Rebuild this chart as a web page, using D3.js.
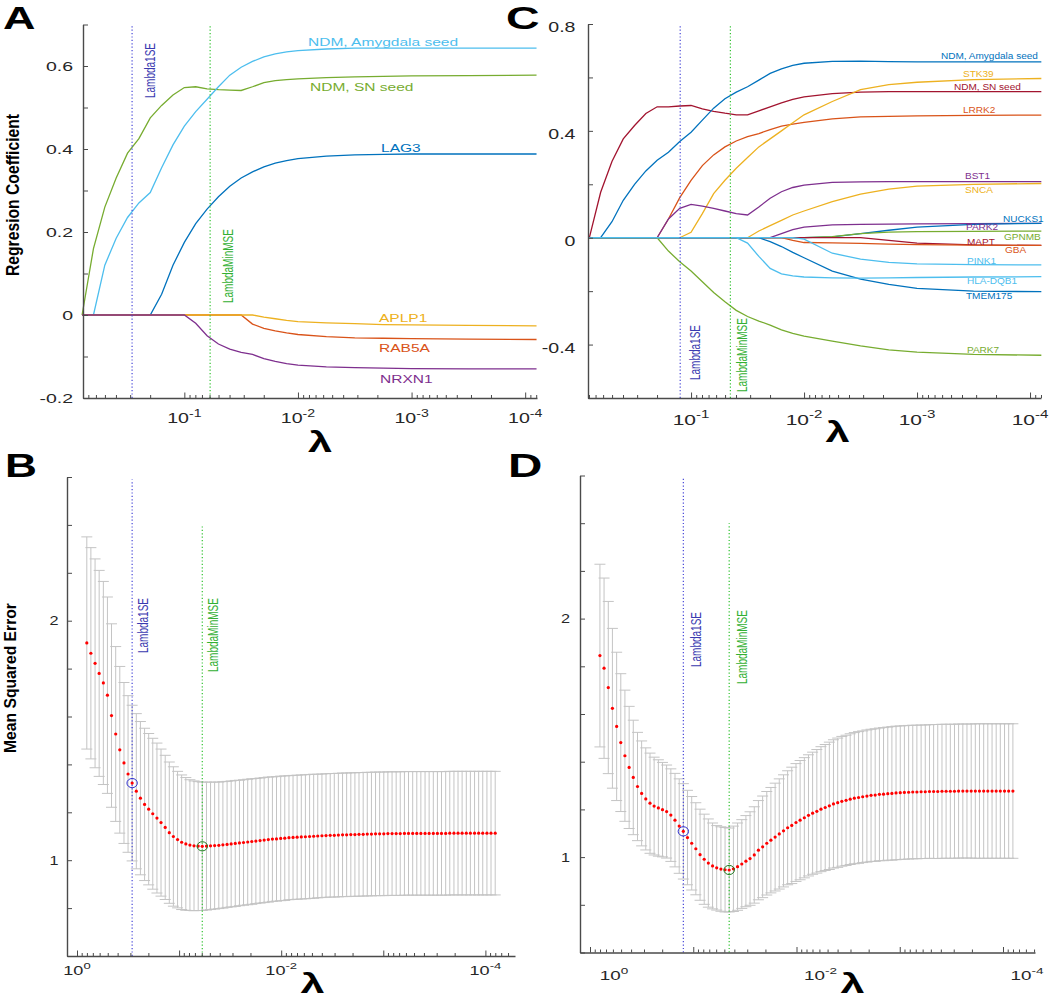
<!DOCTYPE html>
<html>
<head>
<meta charset="utf-8">
<script src="https://cdn.jsdelivr.net/npm/d3@7"></script>
<style>
  body { margin: 0; background: #fff; }
  svg { display: block; font-family: "Liberation Sans", Arial, Helvetica, sans-serif; }
</style>
</head>
<body>
<script>
// ---- data ----
// log10(lambda) of the 100 cross-validation points (B and D)
const logLambda = [-0.096,-0.136,-0.177,-0.217,-0.258,-0.298,-0.338,-0.379,-0.419,-0.460,
  -0.500,-0.540,-0.581,-0.621,-0.662,-0.702,-0.742,-0.783,-0.823,-0.864,
  -0.904,-0.944,-0.985,-1.025,-1.066,-1.106,-1.146,-1.187,-1.227,-1.268,
  -1.308,-1.348,-1.389,-1.429,-1.470,-1.510,-1.550,-1.591,-1.631,-1.672,
  -1.712,-1.752,-1.793,-1.833,-1.874,-1.914,-1.954,-1.995,-2.035,-2.076,
  -2.116,-2.156,-2.197,-2.237,-2.278,-2.318,-2.358,-2.399,-2.439,-2.480,
  -2.520,-2.560,-2.601,-2.641,-2.682,-2.722,-2.762,-2.803,-2.843,-2.884,
  -2.924,-2.964,-3.005,-3.045,-3.086,-3.126,-3.166,-3.207,-3.247,-3.288,
  -3.328,-3.368,-3.409,-3.449,-3.490,-3.530,-3.570,-3.611,-3.651,-3.692,
  -3.732,-3.772,-3.813,-3.853,-3.894,-3.934,-3.974,-4.015,-4.055,-4.096];

const mseB = [1.907,1.864,1.822,1.780,1.740,1.689,1.604,1.527,1.461,1.406,
  1.360,1.322,1.288,1.259,1.233,1.213,1.194,1.176,1.157,1.137,
  1.115,1.099,1.086,1.075,1.068,1.063,1.060,1.059,1.058,1.059,
  1.060,1.061,1.062,1.064,1.066,1.068,1.070,1.072,1.074,1.076,
  1.078,1.080,1.082,1.084,1.086,1.088,1.089,1.091,1.092,1.094,
  1.095,1.096,1.097,1.098,1.099,1.100,1.101,1.102,1.103,1.104,
  1.104,1.105,1.106,1.106,1.107,1.107,1.108,1.108,1.109,1.109,
  1.110,1.110,1.110,1.111,1.111,1.111,1.111,1.112,1.112,1.112,
  1.112,1.112,1.112,1.112,1.112,1.112,1.112,1.112,1.113,1.113,
  1.113,1.113,1.113,1.113,1.113,1.113,1.113,1.113,1.113,1.113];
const seB = [0.443,0.441,0.436,0.430,0.424,0.410,0.383,0.365,0.348,0.336,
  0.327,0.325,0.324,0.320,0.318,0.316,0.315,0.313,0.307,0.301,
  0.295,0.291,0.285,0.281,0.277,0.273,0.271,0.269,0.268,0.267,
  0.266,0.265,0.264,0.264,0.263,0.263,0.263,0.262,0.262,0.262,
  0.262,0.261,0.261,0.261,0.261,0.260,0.260,0.260,0.260,0.259,
  0.259,0.259,0.259,0.259,0.259,0.259,0.258,0.258,0.258,0.258,
  0.258,0.258,0.258,0.258,0.258,0.258,0.258,0.258,0.258,0.258,
  0.258,0.258,0.258,0.258,0.258,0.258,0.258,0.258,0.258,0.258,
  0.258,0.258,0.258,0.258,0.258,0.258,0.258,0.258,0.258,0.258,
  0.258,0.258,0.258,0.258,0.258,0.258,0.258,0.258,0.258,0.258];

const mseD = [1.845,1.792,1.711,1.624,1.548,1.480,1.425,1.376,1.334,1.296,
  1.267,1.244,1.226,1.214,1.206,1.199,1.191,1.176,1.155,1.130,
  1.108,1.082,1.058,1.035,1.010,0.991,0.975,0.963,0.955,0.950,
  0.947,0.946,0.951,0.960,0.971,0.983,0.994,1.009,1.029,1.043,
  1.058,1.071,1.084,1.097,1.110,1.123,1.133,1.145,1.155,1.165,
  1.175,1.184,1.192,1.201,1.208,1.215,1.223,1.228,1.234,1.238,
  1.243,1.247,1.250,1.253,1.256,1.259,1.260,1.263,1.264,1.266,
  1.267,1.269,1.270,1.271,1.272,1.273,1.273,1.274,1.274,1.275,
  1.275,1.275,1.276,1.276,1.276,1.276,1.277,1.277,1.277,1.277,
  1.277,1.277,1.277,1.277,1.277,1.277,1.277,1.277,1.277,1.277];
const seD = [0.383,0.378,0.361,0.335,0.311,0.289,0.275,0.256,0.240,0.227,
  0.220,0.214,0.210,0.205,0.202,0.198,0.195,0.194,0.196,0.198,
  0.200,0.198,0.196,0.193,0.191,0.189,0.185,0.180,0.177,0.177,
  0.177,0.176,0.179,0.183,0.186,0.191,0.196,0.202,0.208,0.213,
  0.217,0.221,0.226,0.231,0.235,0.239,0.244,0.247,0.250,0.252,
  0.254,0.256,0.259,0.262,0.264,0.267,0.269,0.271,0.272,0.273,
  0.274,0.275,0.276,0.276,0.277,0.277,0.278,0.278,0.279,0.279,
  0.280,0.280,0.280,0.280,0.280,0.280,0.280,0.280,0.280,0.280,
  0.281,0.281,0.281,0.281,0.281,0.281,0.281,0.281,0.281,0.281,
  0.282,0.282,0.282,0.282,0.282,0.282,0.282,0.282,0.282,0.282];

// chosen lambdas (log10)
const lambda1SE_AB = -0.540, lambdaMin_AB = -1.227;
const lambda1SE_CD = -0.904, lambdaMin_CD = -1.348;
const idx1SE_B = 11, idxMin_B = 28, idx1SE_D = 20, idxMin_D = 31;

// log10(lambda) where the coefficient paths were read (A and C)
const pathLog = [-0.1,-0.2,-0.3,-0.4,-0.5,-0.6,-0.7,-0.8,-0.9,-1.0,-1.1,-1.2,-1.3,
  -1.4,-1.5,-1.6,-1.7,-1.8,-1.9,-2.0,-2.25,-2.5,-2.75,-3.0,-3.5,-4.1];

// panel A coefficients
const aSN     = [0,0.16,0.26,0.33,0.39,0.425,0.475,0.505,0.53,0.548,0.55,0.545,0.543,0.542,0.541,0.55,0.56,0.565,0.567,0.569,0.572,0.574,0.575,0.576,0.577,0.578];
const aAmyg   = [0,0,0.12,0.185,0.235,0.27,0.295,0.355,0.41,0.455,0.49,0.52,0.55,0.578,0.597,0.611,0.622,0.629,0.634,0.637,0.641,0.643,0.643,0.643,0.643,0.643];
const aLAG3   = [0,0,0,0,0,0,0,0.05,0.12,0.175,0.22,0.255,0.285,0.31,0.33,0.345,0.357,0.366,0.372,0.377,0.383,0.386,0.387,0.388,0.388,0.388];
const aRAB5A  = [0,0,0,0,0,0,0,0,0,0,0,0,0,0,0,-0.022,-0.032,-0.038,-0.043,-0.047,-0.052,-0.055,-0.056,-0.057,-0.058,-0.059];
const aAPLP1  = [0,0,0,0,0,0,0,0,0,0,0,0,0,0,0,0,-0.005,-0.009,-0.013,-0.016,-0.019,-0.021,-0.023,-0.024,-0.025,-0.026];
const aNRXN1  = [0,0,0,0,0,0,0,0,0,0,-0.02,-0.05,-0.07,-0.082,-0.09,-0.095,-0.105,-0.112,-0.117,-0.121,-0.125,-0.127,-0.128,-0.129,-0.13,-0.13];

// panel C coefficients
const cSN      = [0,0.17,0.285,0.37,0.42,0.465,0.49,0.49,0.493,0.495,0.482,0.473,0.466,0.46,0.46,0.475,0.49,0.505,0.518,0.527,0.539,0.545,0.547,0.547,0.547,0.547];
const cAmyg    = [0,0,0.06,0.14,0.2,0.25,0.29,0.32,0.36,0.395,0.44,0.485,0.52,0.545,0.565,0.59,0.615,0.632,0.645,0.653,0.66,0.661,0.659,0.658,0.658,0.658];
const cLRRK2   = [0,0,0,0,0,0,0,0.07,0.15,0.215,0.27,0.31,0.34,0.362,0.378,0.39,0.405,0.418,0.425,0.432,0.445,0.452,0.454,0.456,0.458,0.459];
const cSTK39   = [0,0,0,0,0,0,0,0,0,0.02,0.09,0.165,0.215,0.26,0.3,0.34,0.37,0.4,0.43,0.46,0.51,0.554,0.573,0.582,0.592,0.596];
const cBST1    = [0,0,0,0,0,0,0,0.07,0.11,0.125,0.118,0.11,0.1,0.09,0.085,0.115,0.148,0.172,0.188,0.197,0.207,0.209,0.21,0.21,0.21,0.21];
const cSNCA    = [0,0,0,0,0,0,0,0,0,0,0,0,0,0,0,0.025,0.045,0.065,0.085,0.1,0.135,0.163,0.182,0.193,0.2,0.203];
const cPARK2   = [0,0,0,0,0,0,0,0,0,0,0,0,0,0,0,0,0,0.015,0.03,0.04,0.048,0.05,0.051,0.052,0.053,0.054];
const cNUCKS1  = [0,0,0,0,0,0,0,0,0,0,0,0,0,0,0,0,0,0,0,0,0.003,0.015,0.028,0.04,0.05,0.054];
const cGPNMB   = [0,0,0,0,0,0,0,0,0,0,0,0,0,0,0,0,0,0,0,0,0.004,0.015,0.021,0.023,0.024,0.025];
const cMAPT    = [0,0,0,0,0,0,0,0,0,0,0,0,0,0,0,0,0,0,0,0,0,0,-0.01,-0.02,-0.027,-0.029];
const cGBA     = [0,0,0,0,0,0,0,0,0,0,0,0,0,0,0,0,0,0,-0.01,-0.018,-0.019,-0.021,-0.024,-0.026,-0.028,-0.029];
const cTMEM175 = [0,0,0,0,0,0,0,0,0,0,0,0,0,0,0,0,-0.015,-0.033,-0.055,-0.075,-0.125,-0.155,-0.175,-0.19,-0.2,-0.202];
const cPARK7   = [0,0,0,0,0,0,0,-0.05,-0.09,-0.125,-0.165,-0.205,-0.24,-0.272,-0.295,-0.312,-0.327,-0.345,-0.358,-0.368,-0.387,-0.405,-0.42,-0.428,-0.437,-0.44];
const cPINK1   = [0,0,0,0,0,0,0,0,0,0,0,0,0,0,0,0,0,0,0,-0.005,-0.058,-0.08,-0.092,-0.098,-0.101,-0.102];
const cHLA     = [0,0,0,0,0,0,0,0,0,0,0,0,0,0,-0.02,-0.07,-0.115,-0.135,-0.143,-0.147,-0.15,-0.151,-0.15,-0.149,-0.147,-0.146];

// axis ticks and labels
const yTicksA = [-0.2,-0.1,0,0.1,0.2,0.3,0.4,0.5,0.6,0.7];
const yLabelsA = [-0.2,0,0.2,0.4,0.6];
const yTicksC = [-0.6,-0.4,-0.2,0,0.2,0.4,0.6,0.8];
const yLabelsC = [-0.4,0,0.4,0.8];
const yTicksMSE = [0.6,0.8,1.0,1.2,1.4,1.6,1.8,2.0,2.2,2.4,2.6];
const yLabelsMSE = [1,2];
const xExpCoef = [-1,-2,-3,-4];   // labelled decades in A and C
const xExpMSE = [0,-2,-4];        // labelled decades in B and D

// ---- styles ----
const C_BLUE = "#0072BD", C_ORANGE = "#D95319", C_YELLOW = "#EDB120", C_PURPLE = "#7E2F8E",
      C_GREEN = "#77AC30", C_CYAN = "#4DBEEE", C_RED = "#A2142F";
const AXIS = "#4a4a4a", INK = "#262626";

const svg = d3.select("body").append("svg").attr("width", 1050).attr("height", 1000);

function txt(g, s, x, y, o) {
  const tr = "translate(" + x + "," + y + ")" + (o.rot ? " rotate(" + o.rot + ")" : "") +
    " scale(" + (o.sx || 1) + "," + (o.sy || 1) + ")";
  const t = g.append("text")
    .attr("transform", tr)
    .attr("text-anchor", o.anchor || "start")
    .attr("fill", o.fill || INK)
    .style("font-size", o.size + "px")
    .style("font-weight", o.bold ? "bold" : "normal")
    .text(s);
  if (o.dy) t.attr("dy", o.dy);
  return t;
}

const isMajor = d => Math.abs(Math.log10(d) - Math.round(Math.log10(d))) < 1e-9;
const L = v => Math.pow(10, v);

function drawAxes(g, x, y, o) {
  const x0 = x.range()[0], yb = y.range()[0];
  const xt = x.ticks();
  const gx = g.append("g").attr("transform", "translate(0," + yb + ")")
    .call(d3.axisBottom(x).tickValues(xt).tickSizeInner(-3).tickSizeOuter(0).tickFormat(""));
  gx.selectAll(".tick line").filter(isMajor).attr("y2", -5.5);
  const gy = g.append("g").attr("transform", "translate(" + x0 + ",0)")
    .call(d3.axisLeft(y).tickValues(o.yTicks).tickSizeInner(-5).tickSizeOuter(0).tickFormat(""));
  [gx, gy].forEach(a => {
    a.select(".domain").attr("stroke", AXIS).attr("stroke-width", 1.4);
    a.selectAll(".tick line").attr("stroke", AXIS).attr("stroke-width", 1);
  });

  // x tick labels 10^k
  o.xExp.forEach(k => {
    const t = txt(g, "10", x(L(k)) + (o.xShift || 0), o.xLabelY, { size: o.xSize, sx: o.xSx, anchor: "middle", fill: INK });
    t.append("tspan").attr("dy", -o.xSize * 0.45).style("font-size", (o.xSize * 0.72) + "px").text(k);
  });
  // y tick labels
  o.yLabels.forEach(v => {
    txt(g, String(v), o.yLabelX, y(v) + (o.yLabelDy || 0), { size: o.ySize, sx: o.ySx, anchor: "end", dy: "0.36em" });
  });
  // lambda symbol
  txt(g, "λ", o.lamX, o.lamY, { size: o.lamSize || 30, sx: o.lamSx || 1.45, anchor: "middle", bold: true, fill: "#000" });
}

function vline(g, x, y, lg, v0, v1, color) {
  g.append("line")
    .attr("x1", x(L(lg))).attr("x2", x(L(lg)))
    .attr("y1", y(v0)).attr("y2", y(v1))
    .attr("stroke", color).attr("stroke-width", 1.2)
    .attr("stroke-dasharray", "1.2,2.2");
}

function vlabel(g, s, x, lg, dx, bottom, color) {
  txt(g, s, x(L(lg)) + dx, bottom, { size: 10, rot: -90, sy: 1.5, dy: "0.36em", fill: color });
}

// ---- coefficient-path panels (A, C) ----
function pathPanel(x, y, series) {
  const g = svg.append("g");
  const line = d3.line().x((d, i) => x(L(pathLog[i]))).y(d => y(d));
  series.forEach(s => {
    g.append("path").datum(s.values).attr("d", line)
      .attr("fill", "none").attr("stroke", s.color).attr("stroke-width", 1.3);
  });
  return g;
}

// Panel A
const xA = d3.scaleLog().domain([L(-0.108), L(-4.104)]).range([83, 537]);
const yA = d3.scaleLinear().domain([-0.2, 0.7]).range([398, 24.5]);
const seriesA = [
  { name: "NDM, SN seed", values: aSN, color: C_GREEN, lx: 310, ly: 91 },
  { name: "NDM, Amygdala seed", values: aAmyg, color: C_CYAN, lx: 308, ly: 46 },
  { name: "LAG3", values: aLAG3, color: C_BLUE, lx: 381, ly: 152 },
  { name: "RAB5A", values: aRAB5A, color: C_ORANGE, lx: 379, ly: 352 },
  { name: "APLP1", values: aAPLP1, color: C_YELLOW, lx: 379, ly: 322 },
  { name: "NRXN1", values: aNRXN1, color: C_PURPLE, lx: 380, ly: 383 }
];
const gA = pathPanel(xA, yA, seriesA);
vline(gA, xA, yA, lambda1SE_AB, -0.2, 0.7, "#4646d8");
vline(gA, xA, yA, lambdaMin_AB, -0.2, 0.7, "#2fc22f");
drawAxes(gA, xA, yA, { yTicks: yTicksA, yLabels: yLabelsA, yLabelX: 73, ySize: 13, ySx: 1.5,
  xExp: xExpCoef, xLabelY: 423, xSize: 14, xSx: 1.4, lamX: 320, lamY: 452 });
seriesA.forEach(s => txt(gA, s.name, s.lx, s.ly, { size: 11.5, sx: 1.35, fill: s.color }));
vlabel(gA, "Lambda1SE", xA, lambda1SE_AB, 18, 98, "#3a3ab0");
vlabel(gA, "LambdaMinMSE", xA, lambdaMin_AB, 17, 303, "#32b032");
txt(gA, "Regresion Coefficient", 12, 195, { size: 15.7, rot: -90, sy: 1.15, anchor: "middle", dy: "0.36em", bold: true, fill: "#000" });
txt(gA, "A", 3, 28.5, { size: 31, sx: 1.45, bold: true, fill: "#000" });

// Panel C
const xC = d3.scaleLog().domain([L(-0.088), L(-4.097)]).range([588, 1041]);
const yC = d3.scaleLinear().domain([-0.6, 0.8]).range([398, 24]);
const seriesC = [
  { name: "NDM, SN seed", values: cSN, color: C_RED, lx: 954, ly: 90 },
  { name: "NDM, Amygdala seed", values: cAmyg, color: C_BLUE, lx: 941, ly: 59 },
  { name: "LRRK2", values: cLRRK2, color: C_ORANGE, lx: 963, ly: 113 },
  { name: "STK39", values: cSTK39, color: C_YELLOW, lx: 963, ly: 77 },
  { name: "BST1", values: cBST1, color: C_PURPLE, lx: 965, ly: 179 },
  { name: "SNCA", values: cSNCA, color: C_YELLOW, lx: 965, ly: 193 },
  { name: "PARK2", values: cPARK2, color: C_PURPLE, lx: 966, ly: 230 },
  { name: "NUCKS1", values: cNUCKS1, color: C_BLUE, lx: 1003, ly: 222 },
  { name: "GPNMB", values: cGPNMB, color: C_GREEN, lx: 1004, ly: 239.5 },
  { name: "MAPT", values: cMAPT, color: C_RED, lx: 967, ly: 244.5 },
  { name: "GBA", values: cGBA, color: C_ORANGE, lx: 1005, ly: 253 },
  { name: "TMEM175", values: cTMEM175, color: C_BLUE, lx: 966, ly: 299 },
  { name: "PARK7", values: cPARK7, color: C_GREEN, lx: 967, ly: 353 },
  { name: "PINK1", values: cPINK1, color: C_CYAN, lx: 967, ly: 264 },
  { name: "HLA-DQB1", values: cHLA, color: C_CYAN, lx: 967, ly: 284 }
];
const gC = pathPanel(xC, yC, seriesC);
vline(gC, xC, yC, lambda1SE_CD, -0.6, 0.8, "#4646d8");
vline(gC, xC, yC, lambdaMin_CD, -0.6, 0.8, "#2fc22f");
drawAxes(gC, xC, yC, { yTicks: yTicksC, yLabels: yLabelsC, yLabelX: 575.5, yLabelDy: 3, ySize: 14.5, ySx: 1.35,
  xExp: xExpCoef, xLabelY: 425, xSize: 15, xSx: 1.4, lamX: 837.5, lamY: 442 });
seriesC.forEach(s => txt(gC, s.name, s.lx, s.ly, { size: 9.3, sx: 1.08, fill: s.color }));
vlabel(gC, "Lambda1SE", xC, lambda1SE_CD, 14.8, 380, "#3a3ab0");
vlabel(gC, "LambdaMinMSE", xC, lambdaMin_CD, 11.6, 392, "#32b032");
txt(gC, "C", 506, 28.5, { size: 31, sx: 1.5, bold: true, fill: "#000" });

// ---- cross-validation panels (B, D) ----
function msePanel(x, y, mse, se, i1, iMin, l1, lMin, o) {
  const g = svg.append("g");
  const pts = mse.map((m, i) => ({ lx: L(logLambda[i]), m: m, s: se[i] }));
  const cap = 5.5;
  g.append("g").selectAll("path").data(pts).enter().append("path")
    .attr("d", d => {
      const px = x(d.lx), hi = y(d.m + d.s), lo = y(d.m - d.s);
      return "M" + px + "," + lo + "V" + hi +
        "M" + (px - cap) + "," + hi + "H" + (px + cap) +
        "M" + (px - cap) + "," + lo + "H" + (px + cap);
    })
    .attr("fill", "none").attr("stroke", "#c4c4c4").attr("stroke-width", 1);
  vline(g, x, y, l1, 0.6, 2.59, "#4646d8");
  vline(g, x, y, lMin, 0.6, 2.4, "#2fc22f");
  g.append("g").selectAll("circle").data(pts).enter().append("circle")
    .attr("cx", d => x(d.lx)).attr("cy", d => y(d.m)).attr("r", 1.6).attr("fill", "#ff0000");
  [[i1, "#2f2fd0"], [iMin, "#1f7a1f"]].forEach(([i, col]) => {
    g.append("ellipse").attr("cx", x(pts[i].lx)).attr("cy", y(pts[i].m))
      .attr("rx", 5.2).attr("ry", 4.6).attr("fill", "none").attr("stroke", col).attr("stroke-width", 1);
  });
  drawAxes(g, x, y, o);
  return g;
}

// Panel B
const xB = d3.scaleLog().domain([L(0.098), L(-4.29)]).range([67, 515]);
const yB = d3.scaleLinear().domain([0.6, 2.6]).range([956, 477]);
const gB = msePanel(xB, yB, mseB, seB, idx1SE_B, idxMin_B, lambda1SE_AB, lambdaMin_AB,
  { yTicks: yTicksMSE, yLabels: yLabelsMSE, yLabelX: 58.5, ySize: 12.5, ySx: 1.3,
    xExp: xExpMSE, xLabelY: 975, xSize: 12.5, xSx: 1.45, lamX: 312.5, lamY: 993, lamSize: 27, lamSx: 1.6 });
vlabel(gB, "Lambda1SE", xB, lambda1SE_AB, 10.4, 653, "#3a3ab0");
vlabel(gB, "LambdaMinMSE", xB, lambdaMin_AB, 10.2, 672, "#32b032");
txt(gB, "Mean Squared Error", 9.5, 678, { size: 15.7, rot: -90, sy: 1.08, anchor: "middle", dy: "0.36em", bold: true, fill: "#000" });
txt(gB, "B", 5, 477, { size: 34, sx: 1.3, bold: true, fill: "#000" });

// Panel D
const xD = d3.scaleLog().domain([L(0.097), L(-4.31)]).range([580, 1035]);
const yD = d3.scaleLinear().domain([0.6, 2.6]).range([952.5, 475.5]);
const gD = msePanel(xD, yD, mseD, seD, idx1SE_D, idxMin_D, lambda1SE_CD, lambdaMin_CD,
  { yTicks: yTicksMSE, yLabels: yLabelsMSE, yLabelX: 570, ySize: 12.5, ySx: 1.3,
    xExp: xExpMSE, xLabelY: 980, xSize: 13, xSx: 1.45, xShift: 24, lamX: 852.5, lamY: 993, lamSize: 27, lamSx: 1.6 });
vlabel(gD, "Lambda1SE", xD, lambda1SE_CD, 12.6, 667, "#3a3ab0");
vlabel(gD, "LambdaMinMSE", xD, lambdaMin_CD, 12.3, 684, "#32b032");
txt(gD, "D", 508, 477, { size: 34, sx: 1.4, bold: true, fill: "#000" });
</script>
</body>
</html>
